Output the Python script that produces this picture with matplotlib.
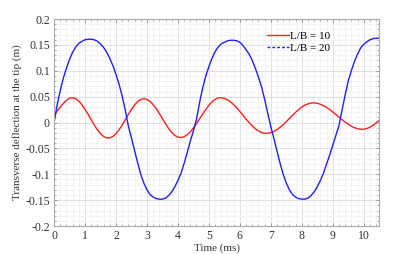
import numpy as np
import matplotlib
matplotlib.use("Agg")
import matplotlib.pyplot as plt
from matplotlib.lines import Line2D
from matplotlib.ticker import MultipleLocator

time_ms = np.round(np.arange(0, 10.5001, 0.1), 2)

lb10 = [0.013, 0.022, 0.030, 0.037, 0.043, 0.047, 0.048, 0.046, 0.0414, 0.0345,
        0.0257, 0.0158, 0.0053, -0.0048, -0.014, -0.0215, -0.0269, -0.0296, -0.0297, -0.0268,
        -0.0215, -0.0139, -0.0047, 0.0054, 0.0158, 0.0255, 0.034, 0.0405, 0.0446, 0.046,
        0.0447, 0.0408, 0.0347, 0.0267, 0.0174, 0.0075, -0.0023, -0.0114, -0.0191, -0.0248,
        -0.0281, -0.029, -0.0274, -0.0236, -0.0179, -0.0105, -0.0021, 0.0072, 0.0165, 0.0254,
        0.0334, 0.0400, 0.0448, 0.0476, 0.048, 0.0467, 0.044, 0.0399, 0.0346, 0.0284,
        0.0215, 0.0142, 0.0069, 0.0000, -0.0064, -0.0119, -0.0162, -0.0193, -0.0208, -0.0209,
        -0.0196, -0.0171, -0.0136, -0.0091, -0.0039, 0.0018, 0.0079, 0.0140, 0.0198, 0.0251,
        0.0298, 0.0336, 0.0362, 0.0377, 0.038, 0.0372, 0.0354, 0.0327, 0.0292, 0.0251,
        0.0205, 0.0155, 0.0105, 0.0055, 0.0008, -0.0035, -0.0071, -0.0099, -0.0119, -0.0129,
        -0.013, -0.0115, -0.009, -0.0052, -0.0005, 0.004]

lb20 = [0.000, 0.034, 0.062, 0.086, 0.105, 0.122, 0.136, 0.146, 0.153, 0.157,
        0.160, 0.161, 0.161, 0.160, 0.157, 0.152, 0.145, 0.136, 0.124, 0.110,
        0.093, 0.074, 0.051, 0.024, -0.007, -0.030, -0.054, -0.078, -0.100, -0.117,
        -0.130, -0.139, -0.144, -0.147, -0.148, -0.148, -0.146, -0.141, -0.134, -0.124,
        -0.112, -0.098, -0.079, -0.058, -0.036, -0.016, 0.006, 0.039, 0.067, 0.090,
        0.108, 0.124, 0.137, 0.146, 0.152, 0.155, 0.158, 0.159, 0.159, 0.158,
        0.155, 0.149, 0.141, 0.132, 0.120, 0.105, 0.088, 0.069, 0.045, 0.018,
        -0.008, -0.031, -0.055, -0.079, -0.100, -0.117, -0.130, -0.139, -0.144, -0.147,
        -0.148, -0.148, -0.146, -0.141, -0.134, -0.124, -0.112, -0.098, -0.080, -0.063,
        -0.044, -0.025, -0.006, 0.024, 0.053, 0.080, 0.100, 0.118, 0.132, 0.144,
        0.151, 0.156, 0.160, 0.162, 0.163, 0.163]

labels = ["L/B = 10", "L/B = 20"]
xticks = [0, 1, 2, 3, 4, 5, 6, 7, 8, 9, 10]
yticks = [-0.2, -0.15, -0.1, -0.05, 0, 0.05, 0.1, 0.15, 0.2]
ytick_labels = ["-0.2", "-0.15", "-0.1", "-0.05", "0", "0.05", "0.1", "0.15", "0.2"]

plt.rcParams['font.family'] = ['Liberation Serif', 'DejaVu Serif']
plt.rcParams['font.size'] = 8.5

fig = plt.figure(figsize=(4.19, 2.54), dpi=100)
ax = fig.add_axes([0.129, 0.110, 0.776, 0.815])

ax.plot(time_ms, lb10, color='#ff2020', lw=1.0)
ax.plot(time_ms, lb20, color='#2020ff', lw=1.0)

ax.set_xlim(0, 10.5)
ax.set_ylim(-0.2, 0.2)
ax.set_xticks(xticks)
ax.set_yticks(yticks)
ax.set_yticklabels(ytick_labels)
ax.xaxis.set_minor_locator(MultipleLocator(0.2))
ax.yaxis.set_minor_locator(MultipleLocator(0.01))
ax.grid(which='major', color='#dcdcdc', lw=0.6)
ax.grid(which='minor', color='#f0f0f0', lw=0.5)
ax.set_axisbelow(True)
ax.tick_params(which='both', direction='in', top=True, right=True,
               colors='#777777', labelcolor='#333333', labelsize=8.5)
ax.tick_params(which='major', length=2.5, width=0.5, pad=3)
ax.tick_params(which='minor', length=1.5, width=0.4)
for s in ax.spines.values():
    s.set_color('#aaaaaa')
    s.set_linewidth(0.8)

ax.set_xlabel("Time (ms)", color='#333333', labelpad=1, fontsize=8)
ax.set_ylabel("Transverse deflection at the tip (m)", color='#333333', labelpad=2, fontsize=8)

handles = [Line2D([], [], color='#ff2020', lw=1.0),
           Line2D([], [], color='#2020ff', lw=1.0, ls=(0, (2, 1.5)))]
ax.legend(handles, labels, loc='upper right', bbox_to_anchor=(0.88, 0.99),
          frameon=False, handlelength=2.0, handletextpad=0.1, labelspacing=0.2,
          fontsize=8)

fig.savefig("out.png", dpi=100)
